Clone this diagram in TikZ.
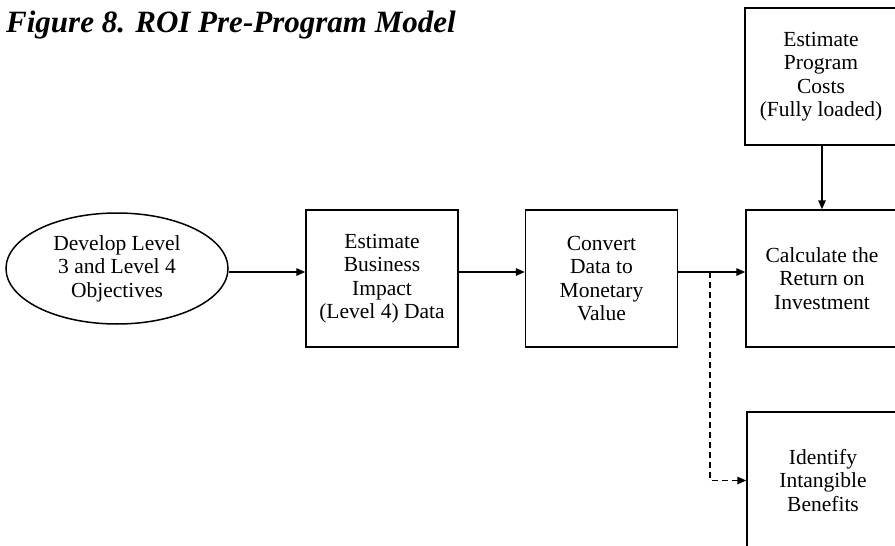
\documentclass[tikz,border=0pt]{standalone}
\usepackage{fontspec}
\setmainfont{Liberation Serif}
\usetikzlibrary{shapes.geometric,arrows.meta}
\begin{document}
\begin{tikzpicture}[x=1pt,y=-1pt,
  txt/.style={font=\fontsize{21.5}{23.5}\selectfont, align=center},
  stepbox/.style={txt, draw, line width=1.5pt, minimum width=152pt, minimum height=137pt, inner sep=0pt},
  oval/.style={txt, draw, ellipse, line width=1.5pt, minimum width=222pt, minimum height=111pt, inner sep=0pt},
  arr/.style={line width=1.5pt, -{Triangle[length=9pt,width=7.5pt]}},
  darr/.style={arr, dash pattern=on 6pt off 4pt}]
\clip (0,0) rectangle (895,546);
\fill[white] (0,0) rectangle (895,546);
\node[anchor=base west, inner sep=0pt, font=\fontsize{31}{34}\selectfont\bfseries\itshape] (title) at (6,32) {Figure 8. ROI Pre-Program Model};
\node[oval] (dev) at (117,268.5) {Develop Level\\3 and Level 4\\Objectives};
\node[stepbox] (est) at (382,278.5) {Estimate\\Business\\Impact\\(Level 4) Data};
\node[stepbox] (conv) at (601.5,278.5) {Convert\\Data to\\Monetary\\Value};
\node[stepbox] (calc) at (822,278.5) {Calculate the\\Return on\\Investment};
\node[stepbox] (cost) at (821,76.5) {Estimate\\Program\\Costs\\(Fully loaded)};
\node[stepbox] (ident) at (823,480.5) {Identify\\Intangible\\Benefits};
\coordinate (split) at (710,272);
\draw[arr] (dev.east |- 0,272) -- (est.west |- 0,272);
\draw[arr] (est.east |- 0,272) -- (conv.west |- 0,272);
\draw[arr] (conv.east |- 0,272) -- (calc.west |- 0,272);
\draw[arr] (cost.south -| 822,0) -- (calc.north);
\draw[darr] (split) |- (ident.west);
\end{tikzpicture}
\end{document}
